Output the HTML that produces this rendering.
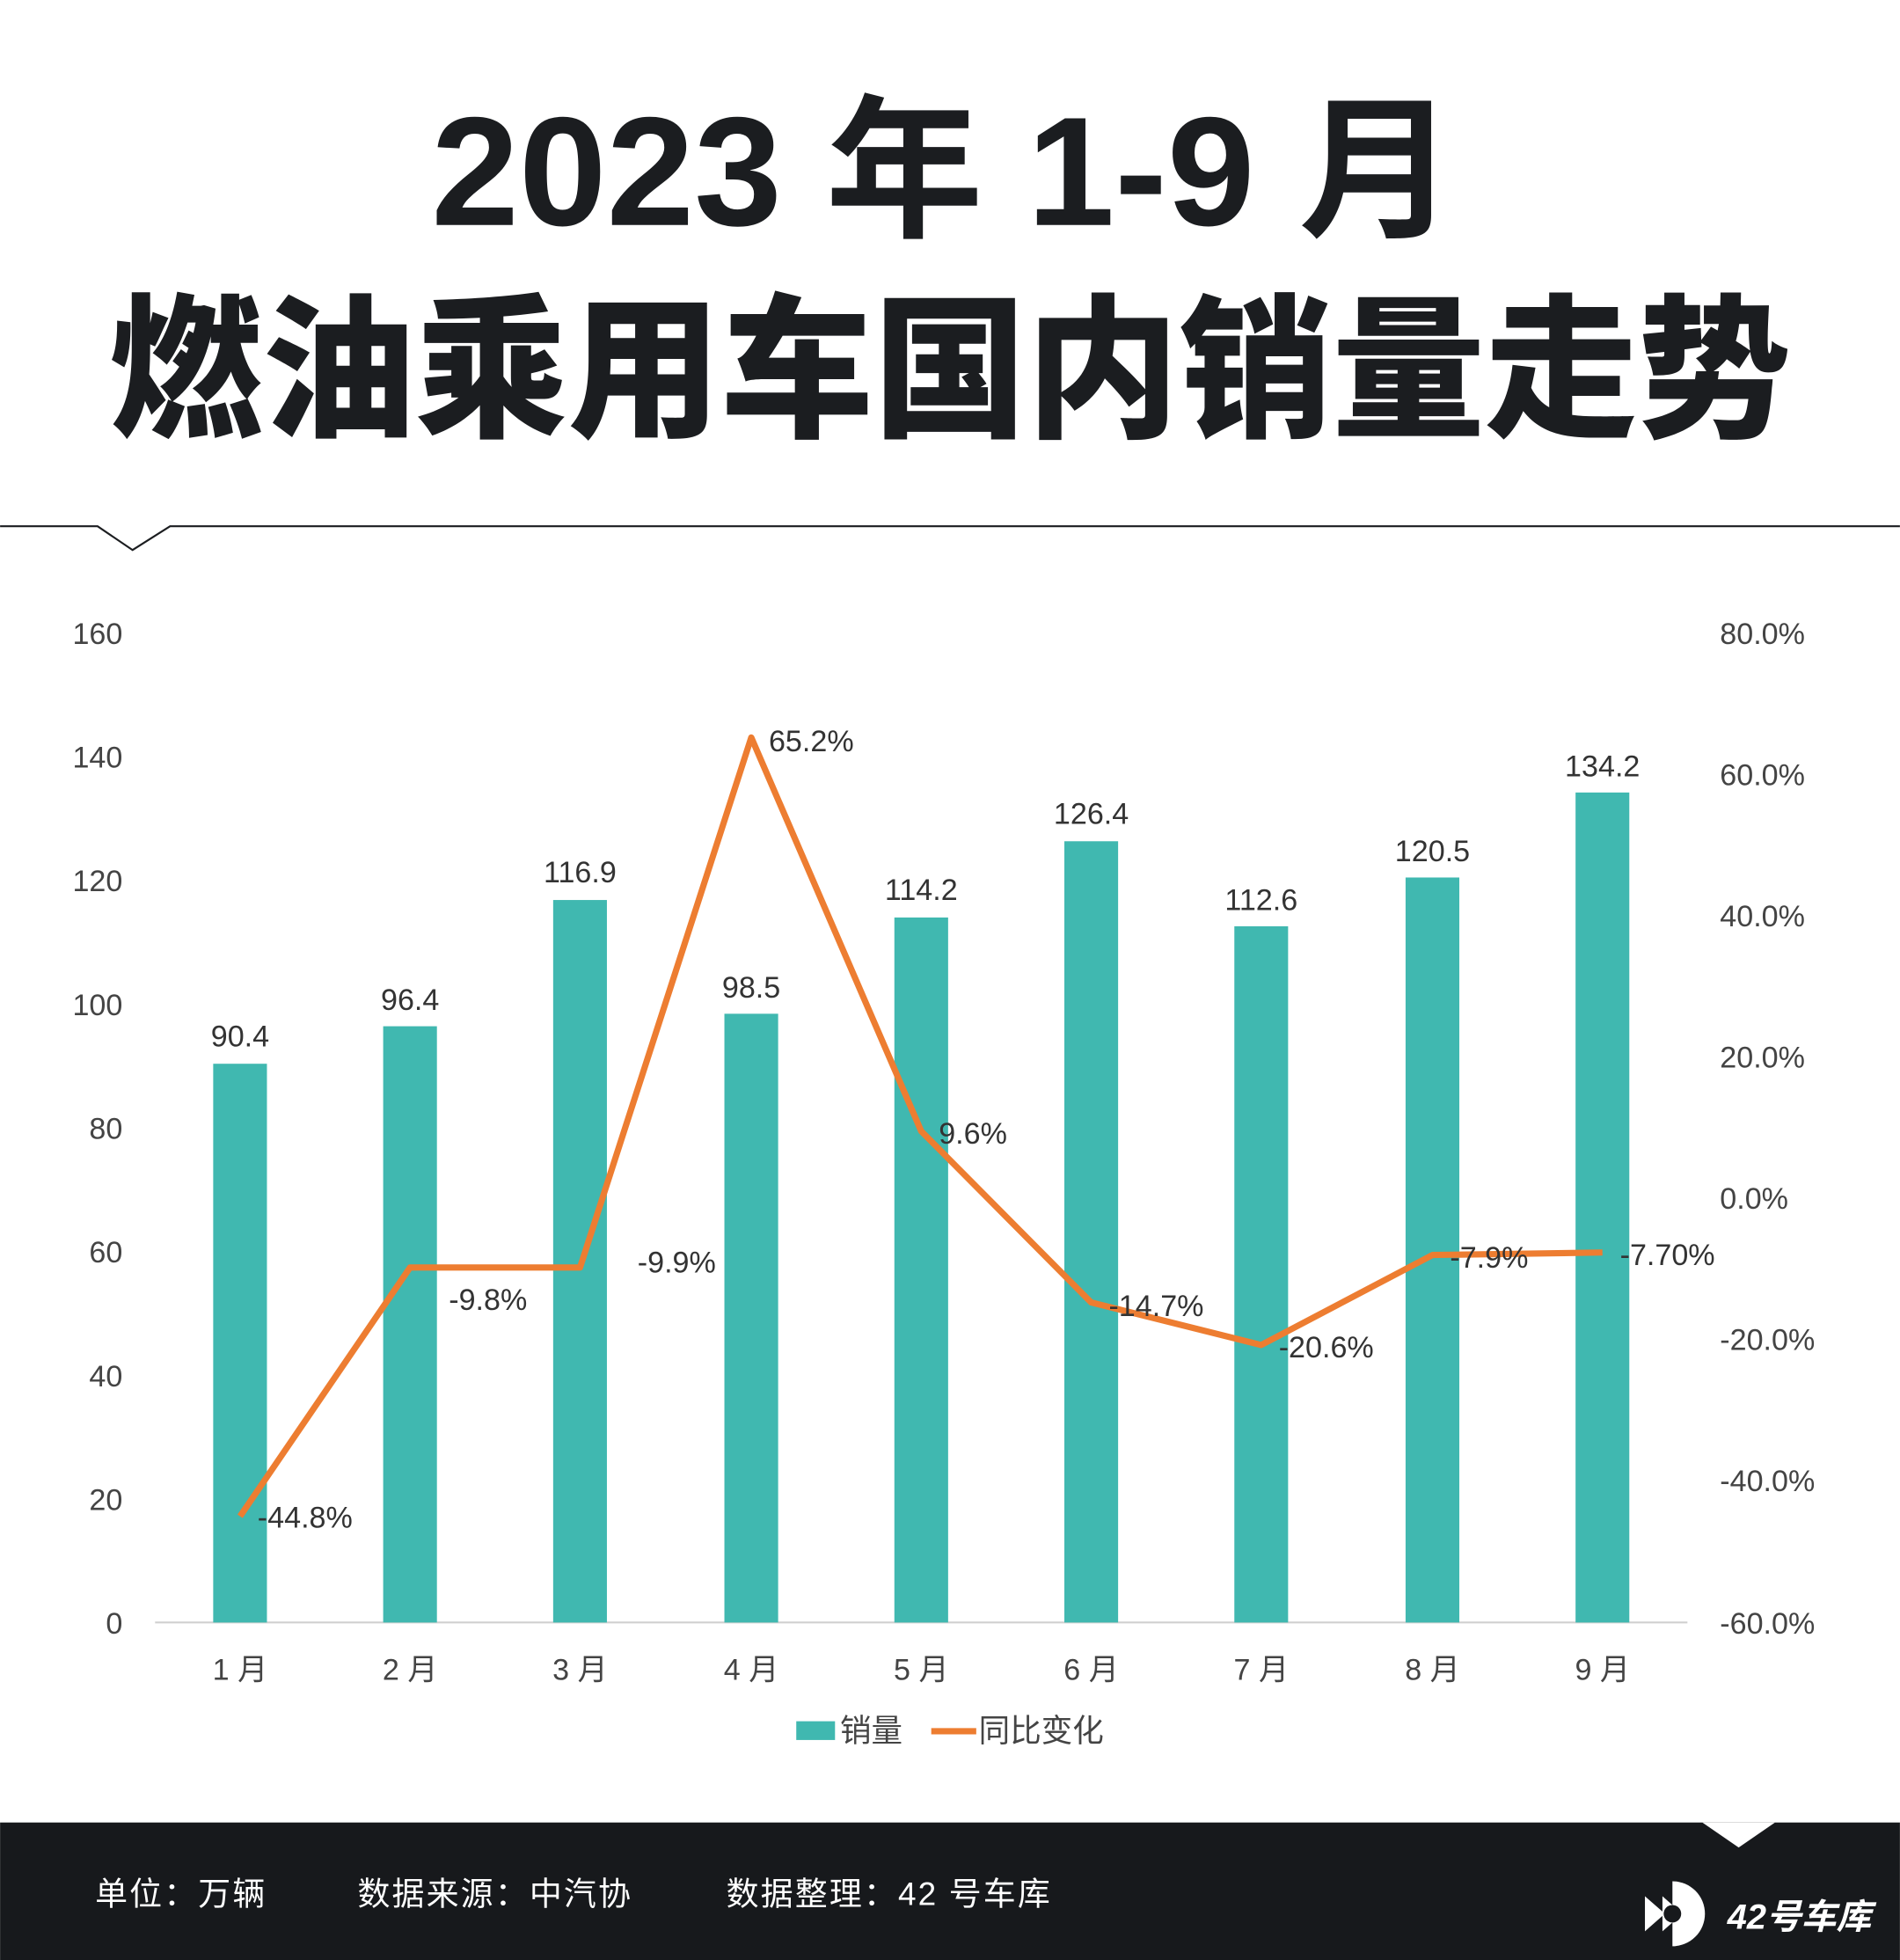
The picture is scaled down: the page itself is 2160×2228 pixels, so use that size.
<!DOCTYPE html>
<html><head><meta charset="utf-8"><style>
html,body{margin:0;padding:0;background:#fff}
svg{display:block}
text{font-family:"Liberation Sans","Noto Sans CJK SC",sans-serif}
</style></head><body>
<svg width="2160" height="2228" viewBox="0 0 1520 1568" xmlns="http://www.w3.org/2000/svg">
<rect width="1520" height="1568" fill="#fff"/>
<text x="755" y="180" text-anchor="middle" font-size="124" font-weight="bold" fill="#1b1d20" textLength="820" lengthAdjust="spacingAndGlyphs">2023 年 1-9 月</text>
<text x="760" y="340" text-anchor="middle" font-size="124" font-weight="900" fill="#1b1d20" textLength="1345" lengthAdjust="spacingAndGlyphs">燃油乘用车国内销量走势</text>
<polyline points="0,421 78,421 106,440 136,421 1520,421" fill="none" stroke="#1b1d20" stroke-width="1.5"/>
<g font-size="24" fill="#444">
<text x="98" y="515" text-anchor="end">160</text>
<text x="98" y="614" text-anchor="end">140</text>
<text x="98" y="713" text-anchor="end">120</text>
<text x="98" y="812" text-anchor="end">100</text>
<text x="98" y="911" text-anchor="end">80</text>
<text x="98" y="1010" text-anchor="end">60</text>
<text x="98" y="1109" text-anchor="end">40</text>
<text x="98" y="1208" text-anchor="end">20</text>
<text x="98" y="1307" text-anchor="end">0</text>
<text x="1376" y="515">80.0%</text>
<text x="1376" y="628">60.0%</text>
<text x="1376" y="741">40.0%</text>
<text x="1376" y="854">20.0%</text>
<text x="1376" y="967">0.0%</text>
<text x="1376" y="1080">-20.0%</text>
<text x="1376" y="1193">-40.0%</text>
<text x="1376" y="1307">-60.0%</text>
</g>
<line x1="124" y1="1298" x2="1350" y2="1298" stroke="#d0d0d0" stroke-width="1.5"/>
<g fill="#40b8b0">
<rect x="170.5" y="851" width="43" height="447"/>
<rect x="306.5" y="821" width="43" height="477"/>
<rect x="442.5" y="720" width="43" height="578"/>
<rect x="579.5" y="811" width="43" height="487"/>
<rect x="715.5" y="734" width="43" height="564"/>
<rect x="851.5" y="673" width="43" height="625"/>
<rect x="987.5" y="741" width="43" height="557"/>
<rect x="1124.5" y="702" width="43" height="596"/>
<rect x="1260.5" y="634" width="43" height="664"/>
</g>
<g font-size="24" fill="#333" text-anchor="middle">
<text x="192" y="837">90.4</text>
<text x="328" y="808">96.4</text>
<text x="464" y="706">116.9</text>
<text x="601" y="798">98.5</text>
<text x="737" y="720">114.2</text>
<text x="873" y="659">126.4</text>
<text x="1009" y="728">112.6</text>
<text x="1146" y="689">120.5</text>
<text x="1282" y="621">134.2</text>
</g>
<polyline points="192,1213 328,1014 464,1014 601,590 737,905 873,1042 1009,1076 1146,1004 1282,1002" fill="none" stroke="#ed7d31" stroke-width="5" stroke-linejoin="round"/>
<g font-size="24" fill="#333">
<text x="206" y="1222">-44.8%</text>
<text x="359" y="1048">-9.8%</text>
<text x="510" y="1018">-9.9%</text>
<text x="615" y="601">65.2%</text>
<text x="751" y="915">9.6%</text>
<text x="887" y="1053">-14.7%</text>
<text x="1023" y="1086">-20.6%</text>
<text x="1160" y="1014">-7.9%</text>
<text x="1296" y="1012">-7.70%</text>
</g>
<g font-size="24" fill="#444" text-anchor="middle">
<text x="192" y="1344">1 月</text>
<text x="328" y="1344">2 月</text>
<text x="464" y="1344">3 月</text>
<text x="601" y="1344">4 月</text>
<text x="737" y="1344">5 月</text>
<text x="873" y="1344">6 月</text>
<text x="1009" y="1344">7 月</text>
<text x="1146" y="1344">8 月</text>
<text x="1282" y="1344">9 月</text>
</g>
<rect x="637" y="1377" width="31" height="15" fill="#40b8b0"/>
<text x="672" y="1393" font-size="25" fill="#444">销量</text>
<line x1="745" y1="1385" x2="781" y2="1385" stroke="#ed7d31" stroke-width="5"/>
<text x="783" y="1393" font-size="25" fill="#444">同比变化</text>
<rect x="0" y="1458" width="1520" height="110" fill="#17191c"/>
<polygon points="1362,1458 1420,1458 1391,1478" fill="#fff"/>
<g font-size="26" fill="#fff" letter-spacing="1.5">
<text x="76" y="1524">单位：万辆</text>
<text x="286" y="1524">数据来源：中汽协</text>
<text x="581" y="1524">数据整理：42 号车库</text>
</g>
<g fill="#fff">
<path d="M1338,1505 a26,26 0 0 1 0,52 z"/>
<polygon points="1316,1517 1332,1531 1316,1545"/>
<polygon points="1330,1517 1346,1531 1330,1545"/>
<circle cx="1338" cy="1531" r="7" fill="#17191c"/>
</g>
<text x="1382" y="1543" font-size="28" font-weight="bold" font-style="italic" fill="#fff">42号车库</text>
</svg>
</body></html>
